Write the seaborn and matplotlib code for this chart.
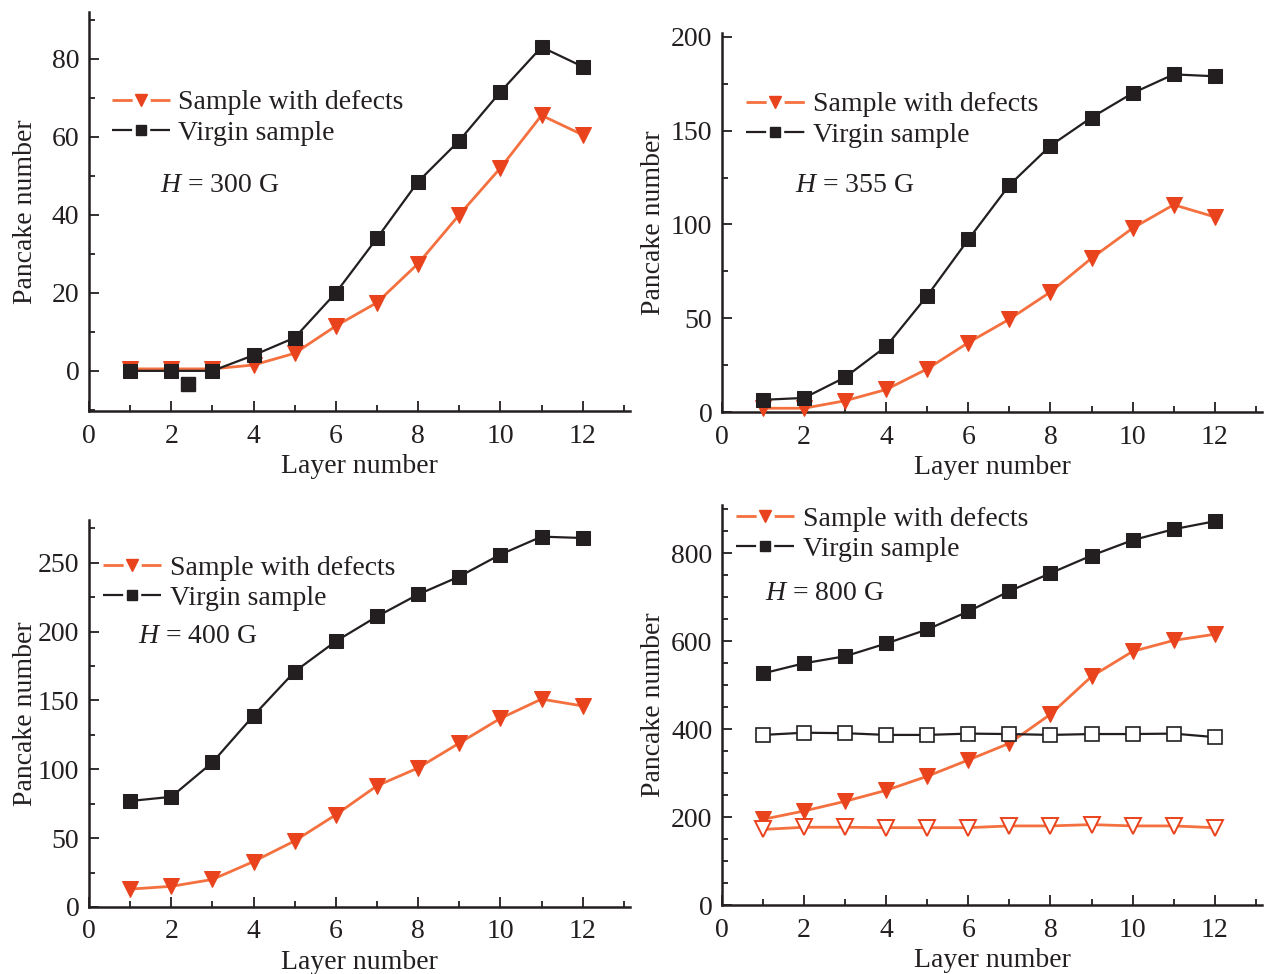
import numpy as np
import pandas as pd
import matplotlib
matplotlib.use("Agg")
import matplotlib.pyplot as plt
from matplotlib.ticker import MultipleLocator
from matplotlib.lines import Line2D
import seaborn as sns

# Layer numbers shared by every panel
layers = list(range(1, 13))

# H = 300 G
defects_300 = [0.5, 0.5, 0.5, 1.5, 4.5, 11.5, 17.5, 27.5, 40, 52, 65.5, 60.5]
virgin_300 = [0, 0, 0, 4, 8.5, 20, 34, 48.5, 59, 71.5, 83, 78]
extra_300_x = [2.4]
extra_300_y = [-3.3]

# H = 355 G
defects_355 = [2, 2, 6, 12, 23, 37, 49.5, 64, 82, 98, 110.5, 104]
virgin_355 = [6.5, 7.5, 18.5, 35, 62, 92, 121, 142, 157, 170, 180, 179]

# H = 400 G
defects_400 = [13, 15, 20, 33, 48, 67, 88, 101, 119, 137, 151, 146]
virgin_400 = [77, 80, 105, 139, 171, 193, 211, 227, 240, 256, 269, 268]

# H = 800 G
defects_800 = [195, 214, 236, 261, 293, 330, 368, 434, 520, 577, 602, 616]
virgin_800 = [527, 550, 566, 595, 627, 668, 714, 755, 795, 830, 855, 873]
virgin_800_open = [387, 392, 391, 387, 387, 390, 389, 387, 389, 389, 390, 382]
defects_800_open = [172, 177, 177, 176, 176, 176, 180, 180, 183, 180, 180, 176]

sns.set_style("ticks")
plt.rcParams["font.family"] = ["Liberation Serif", "DejaVu Serif"]
plt.rcParams["mathtext.fontset"] = "custom"
plt.rcParams["mathtext.rm"] = "Liberation Serif"
plt.rcParams["mathtext.it"] = "Liberation Serif:italic"
plt.rcParams["lines.scale_dashes"] = False

ORANGE_LINE = "#f4703f"
ORANGE_MARK = "#e9431d"
BLACK = "#231f20"

fig = plt.figure(figsize=(12.66, 9.74), dpi=100)

# [left, bottom, width, height]
axes_pos = [
    [0.0703, 0.578, 0.4273, 0.4097],
    [0.5703, 0.577, 0.4265, 0.389],
    [0.0703, 0.0688, 0.4273, 0.3972],
    [0.5703, 0.0708, 0.4265, 0.4107],
]
ylims = [(-10.3, 92), (0, 202), (0, 281), (0, 910)]
ymajor = [20, 50, 50, 200]
yminor = [10, 25, 25, 50]
defects_all = [defects_300, defects_355, defects_400, defects_800]
virgin_all = [virgin_300, virgin_355, virgin_400, virgin_800]
h_labels = [r"$H$ = 300 G", r"$H$ = 355 G", r"$H$ = 400 G", r"$H$ = 800 G"]
h_pos = [(0.131, 0.564), (0.135, 0.599), (0.091, 0.698), (0.08, 0.78)]
leg_pos = [(0.042, 0.735), (0.045, 0.771), (0.026, 0.837), (0.026, 0.927)]
ylabel_x = [-0.095, -0.104, -0.095, -0.104]

# legend proxies: line - gap with marker - line
leg_handles = [
    Line2D([], [], color=ORANGE_LINE, lw=2.0, ls=(0, (14.5, 13)), marker="v",
           markersize=9, markerfacecolor=ORANGE_MARK, markeredgecolor=ORANGE_MARK),
    Line2D([], [], color=BLACK, lw=1.6, ls=(0, (14.5, 13)), marker="s",
           markersize=7.5, markerfacecolor=BLACK, markeredgecolor=BLACK),
]
leg_labels = ["Sample with defects", "Virgin sample"]

for i in range(4):
    ax = fig.add_axes(axes_pos[i])
    sns.lineplot(x=layers, y=defects_all[i], ax=ax, color=ORANGE_LINE, lw=2.0,
                 marker="v", markersize=11, markerfacecolor=ORANGE_MARK,
                 markeredgecolor=ORANGE_MARK, clip_on=False, zorder=3)
    sns.lineplot(x=layers, y=virgin_all[i], ax=ax, color=BLACK, lw=1.6,
                 marker="s", markersize=9.5, markerfacecolor=BLACK,
                 markeredgecolor=BLACK, clip_on=False, zorder=4)
    if i == 0:
        ax.plot(extra_300_x, extra_300_y, ls="none", marker="s", markersize=9.5,
                color=BLACK, zorder=4)
    if i == 3:
        sns.lineplot(x=layers, y=virgin_800_open, ax=ax, color=BLACK, lw=1.6,
                     marker="s", markersize=10, markerfacecolor="white",
                     markeredgecolor=BLACK, markeredgewidth=1.2, zorder=4)
        sns.lineplot(x=layers, y=defects_800_open, ax=ax, color=ORANGE_LINE, lw=2.0,
                     marker="v", markersize=11, markerfacecolor="white",
                     markeredgecolor=ORANGE_MARK, markeredgewidth=1.4, zorder=3)

    ax.set_xlim(0, 13.15)
    ax.set_ylim(*ylims[i])
    ax.xaxis.set_major_locator(MultipleLocator(2))
    ax.xaxis.set_minor_locator(MultipleLocator(1))
    ax.yaxis.set_major_locator(MultipleLocator(ymajor[i]))
    ax.yaxis.set_minor_locator(MultipleLocator(yminor[i]))
    ax.tick_params(which="both", direction="in", width=1.3, colors=BLACK,
                   labelcolor=BLACK, labelsize=20)
    ax.tick_params(which="major", length=7)
    ax.tick_params(which="minor", length=4)
    ax.tick_params(axis="x", which="major", pad=9)
    ax.tick_params(axis="y", which="major", pad=7)
    for s in ["top", "right"]:
        ax.spines[s].set_visible(False)
    for s in ["left", "bottom"]:
        ax.spines[s].set_linewidth(1.8)
        ax.spines[s].set_color(BLACK)
    ax.set_xlabel("Layer number", fontsize=20, color=BLACK, labelpad=4)
    ax.set_ylabel("Pancake number", fontsize=20, color=BLACK)
    ax.yaxis.set_label_coords(ylabel_x[i], 0.5)

    leg = ax.legend(leg_handles, leg_labels, loc="center left",
                    bbox_to_anchor=leg_pos[i], frameon=False,
                    fontsize=20, handlelength=2.1, handletextpad=0.3,
                    labelspacing=0.18, borderpad=0, borderaxespad=0)
    for t in leg.get_texts():
        t.set_color(BLACK)
    ax.text(h_pos[i][0], h_pos[i][1], h_labels[i], transform=ax.transAxes,
            fontsize=20, color=BLACK, va="center", ha="left")

fig.savefig("out.png", dpi=100)
